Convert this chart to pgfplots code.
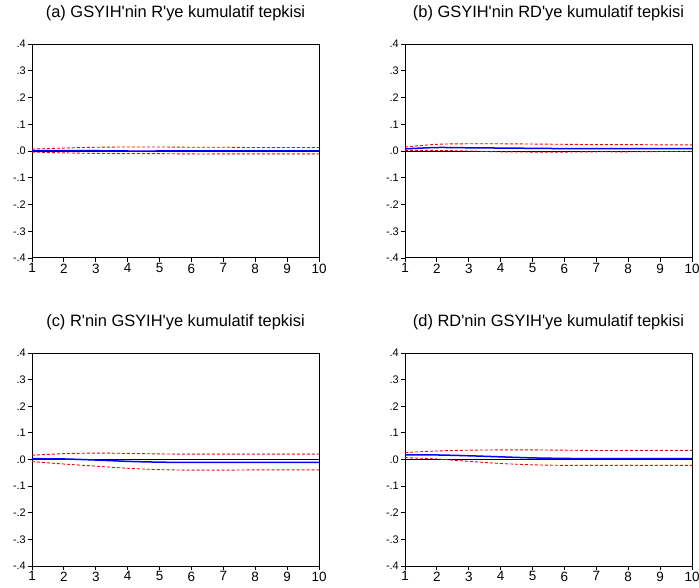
\documentclass[border=0pt]{standalone}
\usepackage{fontspec}
\setmainfont{Liberation Sans}
\usepackage{pgfplots}
\pgfplotsset{compat=1.18}
\newcommand{\q}{\textquotesingle}
\pgfplotsset{
 irf/.style={
  scale only axis, width=287bp, height=214bp,
  xmin=1, xmax=10, ymin=-0.4, ymax=0.4,
  xtick={1,2,3,4,5,6,7,8,9,10},
  ytick={-0.4,-0.3,-0.2,-0.1,0,0.1,0.2,0.3,0.4},
  yticklabels={-.4,-.3,-.2,-.1,.0,.1,.2,.3,.4},
  tick align=outside, major tick length=4bp,
  xtick pos=left, ytick pos=left,
  axis line style={line width=1bp},
  tick style={black, line width=0.8bp},
  xticklabel style={font=\fontsize{13.5}{13.5}\selectfont, inner sep=1.5bp},
  yticklabel style={font=\fontsize{11}{11}\selectfont, inner sep=2bp},
  /pgf/number format/assume math mode=true,
  title style={font=\fontsize{16.5}{18}\selectfont, at={(0.5,1)}, anchor=base, yshift=20.7bp},
 },
 zero/.style={black, line width=0.8bp},
 resp/.style={blue, line width=1.5bp, smooth},
 band/.style={red, line width=0.9bp, dash pattern=on 3bp off 2bp, smooth},
}
\begin{document}
\begin{tikzpicture}
\path[use as bounding box] (0,0) rectangle (699bp,588bp);
% (a)
\begin{axis}[irf, at={(32bp,330bp)}, anchor=south west, title={(a) GSYIH\q nin R\q ye kumulatif tepkisi}]
\addplot[zero] coordinates {(1,0)(10,0)};
\addplot[band] coordinates {(1,0.007)(2,0.011)(3,0.014)(4,0.015)(5,0.015)(6,0.014)(7,0.014)(8,0.013)(9,0.013)(10,0.013)};
\addplot[band] coordinates {(1,-0.004)(2,-0.007)(3,-0.009)(4,-0.010)(5,-0.010)(6,-0.011)(7,-0.011)(8,-0.011)(9,-0.011)(10,-0.011)};
\addplot[resp] coordinates {(1,0.001)(2,0.001)(3,0.001)(4,0.000)(5,0.000)(6,0.000)(7,0.000)(8,0.000)(9,0.000)(10,0.000)};
\end{axis}
% (b)
\begin{axis}[irf, at={(405bp,330bp)}, anchor=south west, title={(b) GSYIH\q nin RD\q ye kumulatif tepkisi}]
\addplot[zero] coordinates {(1,0)(10,0)};
\addplot[band] coordinates {(1,0.015)(2,0.025)(3,0.027)(4,0.027)(5,0.026)(6,0.025)(7,0.024)(8,0.024)(9,0.023)(10,0.023)};
\addplot[band] coordinates {(1,0.002)(2,0.002)(3,0.000)(4,-0.003)(5,-0.004)(6,-0.004)(7,-0.003)(8,-0.003)(9,-0.002)(10,-0.002)};
\addplot[resp] coordinates {(1,0.008)(2,0.013)(3,0.012)(4,0.011)(5,0.010)(6,0.009)(7,0.009)(8,0.009)(9,0.009)(10,0.009)};
\end{axis}
% (c)
\begin{axis}[irf, at={(32bp,22bp)}, anchor=south west, height=213bp, title={(c) R\q nin GSYIH\q ye kumulatif tepkisi}]
\addplot[zero] coordinates {(1,0)(10,0)};
\addplot[band] coordinates {(1,0.016)(2,0.022)(3,0.024)(4,0.023)(5,0.021)(6,0.020)(7,0.020)(8,0.020)(9,0.020)(10,0.020)};
\addplot[band] coordinates {(1,-0.008)(2,-0.017)(3,-0.025)(4,-0.033)(5,-0.038)(6,-0.040)(7,-0.040)(8,-0.039)(9,-0.039)(10,-0.039)};
\addplot[resp] coordinates {(1,0.003)(2,0.002)(3,-0.002)(4,-0.007)(5,-0.010)(6,-0.011)(7,-0.011)(8,-0.011)(9,-0.011)(10,-0.011)};
\end{axis}
% (d)
\begin{axis}[irf, at={(405bp,22bp)}, anchor=south west, height=213bp, title={(d) RD\q nin GSYIH\q ye kumulatif tepkisi}]
\addplot[zero] coordinates {(1,0)(10,0)};
\addplot[band] coordinates {(1,0.026)(2,0.032)(3,0.035)(4,0.036)(5,0.036)(6,0.035)(7,0.034)(8,0.034)(9,0.034)(10,0.034)};
\addplot[band] coordinates {(1,0.007)(2,0.002)(3,-0.007)(4,-0.015)(5,-0.020)(6,-0.022)(7,-0.022)(8,-0.022)(9,-0.022)(10,-0.022)};
\addplot[resp] coordinates {(1,0.017)(2,0.017)(3,0.014)(4,0.010)(5,0.006)(6,0.004)(7,0.003)(8,0.003)(9,0.003)(10,0.003)};
\end{axis}
\end{tikzpicture}
\end{document}
